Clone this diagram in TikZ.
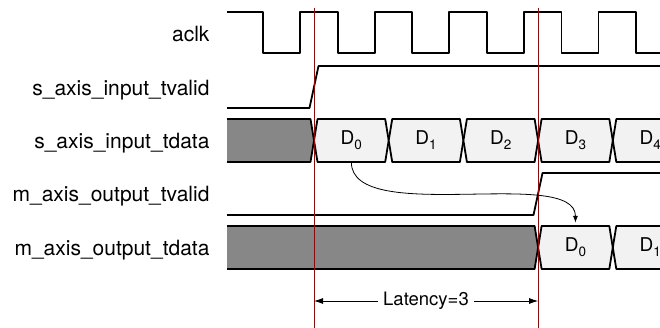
\documentclass[tikz,border=0pt]{standalone}
\usepackage{fontspec}
\setmainfont{TeX Gyre Heros}
\usetikzlibrary{arrows.meta, calc}

\definecolor{edgered}{RGB}{140,10,10}
\newcommand{\dsub}[1]{\raisebox{-5pt}{\fontsize{13.5}{13.5}\selectfont #1}}

\begin{document}
\begin{tikzpicture}[x=1pt, y=-1pt, >={Latex[length=9pt,width=6pt]},
    sig/.style={line width=1.8pt, line join=round},
    busy/.style={fill=black!47},
    slot/.style={fill=black!5},
    marker/.style={line width=0.9pt, draw=edgered},
    lbl/.style={anchor=base east, font=\fontsize{21}{24}\selectfont},
    dlab/.style={minimum height=43pt, inner sep=0pt, font=\fontsize{19}{20}\selectfont}]
    \useasboundingbox (0,0) rectangle (660,328);
    \clip (0,0) rectangle (660,328);
    % Signal names
    \node[lbl] (nclk) at (213,42) {aclk};
    \node[lbl] (nsvalid) at (213,96) {s\_axis\_input\_tvalid};
    \node[lbl] (nsdata) at (213,149) {s\_axis\_input\_tdata};
    \node[lbl] (nmvalid) at (213,202) {m\_axis\_output\_tvalid};
    \node[lbl] (nmdata) at (213,255) {m\_axis\_output\_tdata};
    % Clock
    \draw[sig] (227,12) -| (263,53) -| (300,12) -| (337.6,53) -| (374.6,12)
        -| (412.2,53) -| (449.2,12) -| (486.8,53) -| (523.8,12) -| (561.4,53)
        -| (598.4,12) -| (636,53) -- (664,53);
    % Valid signals
    \draw[sig] (227,108) -- (309.5,108) -- (318.5,66) -- (664,66);
    \draw[sig] (227,215) -- (533.5,215) -- (542.5,173) -- (664,173);
    % Input data
    \fill[busy] (227,119) -- (310.5,119) -- (314,140.5) -- (310.5,162) -- (227,162) -- cycle;
    \draw[sig] (227,119) -- (310.5,119) -- (314,140.5) -- (310.5,162) -- (227,162);
    \foreach \k in {0,...,4} {
        \pgfmathsetmacro{\xa}{314+74.7*\k}
        \pgfmathsetmacro{\xb}{\xa+74.7}
        \draw[sig, slot] (\xa,140.5) -- (\xa+3.5,119) -- (\xb-3.5,119) -- (\xb,140.5)
            -- (\xb-3.5,162) -- (\xa+3.5,162) -- cycle;
        \node[dlab] (sd\k) at ({(\xa+\xb)/2},140.5) {D\dsub{\k}};
    }
    % Output data
    \fill[busy] (227,226) -- (534.6,226) -- (538.1,247.5) -- (534.6,269) -- (227,269) -- cycle;
    \draw[sig] (227,226) -- (534.6,226) -- (538.1,247.5) -- (534.6,269) -- (227,269);
    \foreach \k in {0,1} {
        \pgfmathsetmacro{\xa}{538.1+74.7*\k}
        \pgfmathsetmacro{\xb}{\xa+74.7}
        \draw[sig, slot] (\xa,247.5) -- (\xa+3.5,226) -- (\xb-3.5,226) -- (\xb,247.5)
            -- (\xb-3.5,269) -- (\xa+3.5,269) -- cycle;
        \node[dlab] (md\k) at ({(\xa+\xb)/2},247.5) {D\dsub{\k}};
    }
    % Latency markers
    \draw[marker] (314,8) -- (314,328);
    \draw[marker] (538.1,8) -- (538.1,328);
    % D0 goes through
    \draw[line width=0.8pt, -{Latex[length=7pt,width=5pt]}, shorten >=3pt]
        (sd0.south) .. controls +(0,64) and +(0,-60) .. (md0.north);
    % Latency
    \coordinate (latl) at (314,301);
    \coordinate (latr) at (538.1,301);
    \node[font=\fontsize{18.5}{20}\selectfont, inner sep=5pt] (lat) at (426,301) {Latency=3};
    \draw[line width=0.8pt, ->] (lat) -- (latl);
    \draw[line width=0.8pt, ->] (lat) -- (latr);
\end{tikzpicture}
\end{document}
